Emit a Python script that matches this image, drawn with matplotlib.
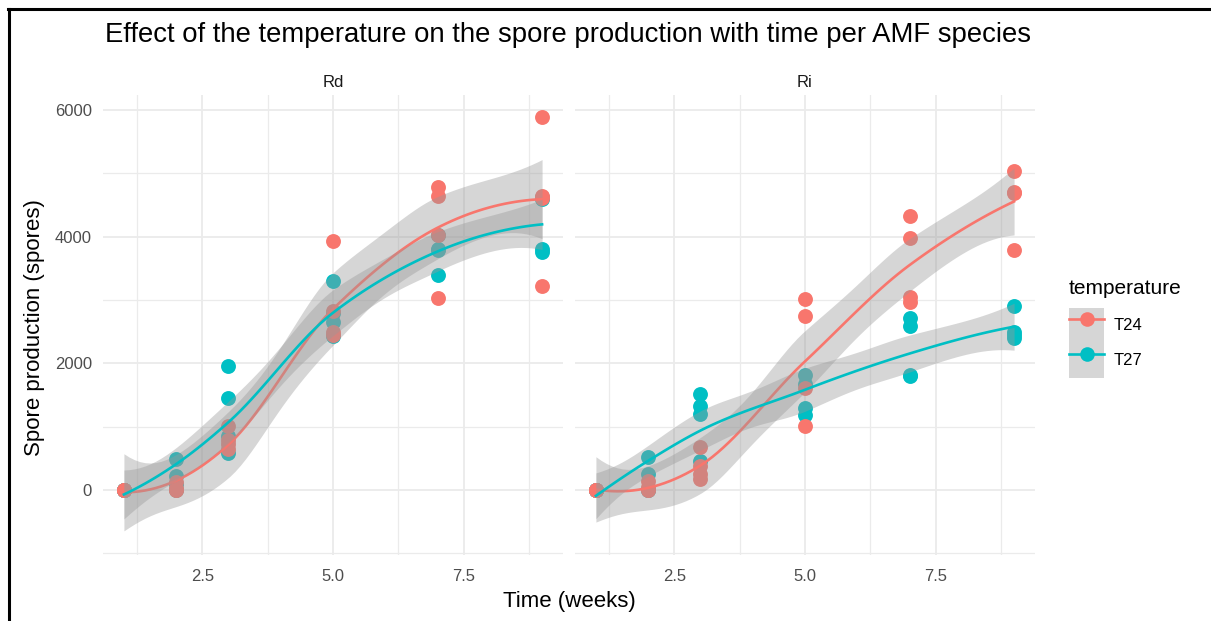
import numpy as np
import matplotlib
matplotlib.use("Agg")
import matplotlib.pyplot as plt
from matplotlib.lines import Line2D
from matplotlib.patches import Patch
from matplotlib.legend_handler import HandlerTuple

plt.rcParams["font.family"] = ["Liberation Sans", "DejaVu Sans"]

# --- data: 4 replicates per week and temperature ---
weeks = [1, 1, 1, 1, 2, 2, 2, 2, 3, 3, 3, 3, 5, 5, 5, 5, 7, 7, 7, 7, 9, 9, 9, 9]

rd_t24_spores = [0, 0, 0, 0, 0, 0, 30, 120, 1015, 780, 726, 650,
                 3935, 2830, 2490, 2450, 4780, 4636, 4030, 3031, 5900, 4650, 4620, 3225]
rd_t27_spores = [0, 0, 0, 0, 489, 226, 95, 0, 1963, 1452, 857, 584,
                 3304, 2800, 2660, 2437, 4030, 3800, 3793, 3399, 4630, 4600, 3800, 3762]

ri_t24_spores = [0, 0, 0, 0, 0, 0, 50, 147, 684, 384, 250, 174,
                 3015, 2742, 1605, 1015, 4330, 3983, 3042, 2963, 5031, 4700, 4688, 3789]
ri_t27_spores = [0, 0, 0, 0, 526, 253, 0, 0, 1515, 1321, 1200, 463,
                 1815, 1673, 1290, 1184, 2720, 2594, 1820, 1800, 2910, 2490, 2450, 2395]

species = ["Rd", "Ri"]
temperatures = ["T24", "T27"]
colors = {"T24": "#F8766D", "T27": "#00BFC4"}

panels = {
    "Rd": {"T24": rd_t24_spores, "T27": rd_t27_spores},
    "Ri": {"T24": ri_t24_spores, "T27": ri_t27_spores},
}


def _t975(df):
    z = 1.959964
    g1 = (z**3 + z) / 4
    g2 = (5 * z**5 + 16 * z**3 + 3 * z) / 96
    g3 = (3 * z**7 + 19 * z**5 + 17 * z**3 - 15 * z) / 384
    return z + g1 / df + g2 / df**2 + g3 / df**3


def loess(x, y, x_eval, span=0.75):
    # stats::loess style: local quadratic fits (tricube weights) at the
    # kd-tree vertices (here the distinct x values), cubic Hermite in between
    x = np.asarray(x, float)
    y = np.asarray(y, float)
    x_eval = np.asarray(x_eval, float)
    n = len(x)
    q = int(np.floor(n * span))
    verts = np.unique(x)

    def local_rows(x0):
        d = np.abs(x - x0)
        h = np.sort(d)[q - 1] + 1e-9
        u = d / h
        w = np.where(u < 1, (1 - u**3) ** 3, 0.0)
        X = np.column_stack([np.ones(n), x - x0, (x - x0) ** 2])
        XtW = X.T * w
        B = np.linalg.pinv(XtW @ X) @ XtW
        return B[0], B[1]

    vals, slopes = zip(*[local_rows(v) for v in verts])
    vals = np.array(vals)
    slopes = np.array(slopes)

    def operator(xs):
        out = np.zeros((len(xs), n))
        for k, xv in enumerate(xs):
            j = min(np.searchsorted(verts, xv, side="right") - 1, len(verts) - 2)
            a, b = verts[j], verts[j + 1]
            hl = b - a
            t = (xv - a) / hl
            h00 = 2 * t**3 - 3 * t**2 + 1
            h10 = t**3 - 2 * t**2 + t
            h01 = -2 * t**3 + 3 * t**2
            h11 = t**3 - t**2
            out[k] = h00 * vals[j] + h10 * hl * slopes[j] + h01 * vals[j + 1] + h11 * hl * slopes[j + 1]
        return out

    L_eval = operator(x_eval)
    L_data = operator(x)
    fit = L_eval @ y
    res = y - L_data @ y
    M = np.eye(n) - L_data
    MtM = M.T @ M
    d1 = np.trace(MtM)
    d2 = np.trace(MtM @ MtM)
    sigma = np.sqrt(np.sum(res**2) / d1)
    se = sigma * np.sqrt(np.sum(L_eval**2, axis=1))
    t = _t975(d1**2 / d2)
    return fit, fit - t * se, fit + t * se


W, H = 1211, 621
fig = plt.figure(figsize=(W / 100, H / 100), dpi=100)

panel_left = {"Rd": 103, "Ri": 575}
panel_w = 460
panel_top, panel_bot = 95, 555

for sp in species:
    ax = fig.add_axes([panel_left[sp] / W, 1 - panel_bot / H, panel_w / W, (panel_bot - panel_top) / H])
    for temp in ["T27", "T24"]:
        ax.scatter(weeks, panels[sp][temp], s=115, color=colors[temp], linewidths=0, zorder=2)
    # ribbon then line, group by group (later group covers earlier line)
    for i, temp in enumerate(temperatures):
        grid = np.linspace(min(weeks), max(weeks), 80)
        fit, lo, hi = loess(weeks, panels[sp][temp], grid)
        ax.fill_between(grid, lo, hi, color="#999999", alpha=0.4, linewidth=0, zorder=3 + 2 * i)
        ax.plot(grid, fit, color=colors[temp], lw=1.9, zorder=4 + 2 * i)

    ax.set_xlim(0.6, 9.4)
    ax.set_ylim(-1030, 6240)
    ax.set_xticks([2.5, 5.0, 7.5])
    ax.set_xticklabels(["2.5", "5.0", "7.5"])
    ax.set_xticks([1.25, 3.75, 6.25, 8.75], minor=True)
    ax.set_yticks([0, 2000, 4000, 6000])
    ax.set_yticks([-1000, 1000, 3000, 5000], minor=True)
    if sp == "Ri":
        ax.set_yticklabels([])
    ax.grid(True, which="major", color="#EBEBEB", lw=1.3, zorder=0)
    ax.grid(True, which="minor", color="#EBEBEB", lw=0.9, zorder=0)
    ax.set_axisbelow(True)
    for spine in ax.spines.values():
        spine.set_visible(False)
    ax.tick_params(which="both", length=0, labelsize=12, colors="#4D4D4D")
    ax.tick_params(axis="x", pad=10)
    ax.tick_params(axis="y", pad=8)
    ax.text(0.5, 1 + 12 / 460, sp, transform=ax.transAxes, ha="center", va="center",
            fontsize=12, color="#1A1A1A")

fig.text(105 / W, 1 - 35 / H, "Effect of the temperature on the spore production with time per AMF species",
         ha="left", va="center", fontsize=19.8, color="black")
fig.text(35 / W, 1 - 328 / H, "Spore production (spores)", rotation=90, ha="center", va="center",
         fontsize=16, color="black")
fig.text(569 / W, 1 - 602 / H, "Time (weeks)", ha="center", va="center", fontsize=16, color="black")

# legend: title as its own text so the key stack can sit flush
fig.text(1069 / W, 1 - 288 / H, "temperature", ha="left", va="center", fontsize=15, color="black")
handles = []
for temp in temperatures:
    handles.append((Patch(facecolor="#D6D6D6", edgecolor="none"),
                    Line2D([], [], color=colors[temp], lw=1.9, marker="o", markersize=10.5,
                           markeredgewidth=0)))
leg = fig.legend(handles, temperatures, loc="upper left",
                 bbox_to_anchor=(1069 / W, 1 - 308 / H), frameon=False, fontsize=12,
                 handlelength=2.1, handleheight=2.85, labelspacing=0,
                 handletextpad=0.55, borderpad=0, borderaxespad=0,
                 handler_map={tuple: HandlerTuple(ndivide=1, pad=0)})

# screenshot frame (top and left edges)
fig.add_artist(Line2D([8 / W, 1], [1 - 9 / H, 1 - 9 / H], transform=fig.transFigure, color="black", lw=2.2))
fig.add_artist(Line2D([9 / W, 9 / W], [0, 1 - 9 / H], transform=fig.transFigure, color="black", lw=2.2))

fig.savefig("out.png", dpi=100)
